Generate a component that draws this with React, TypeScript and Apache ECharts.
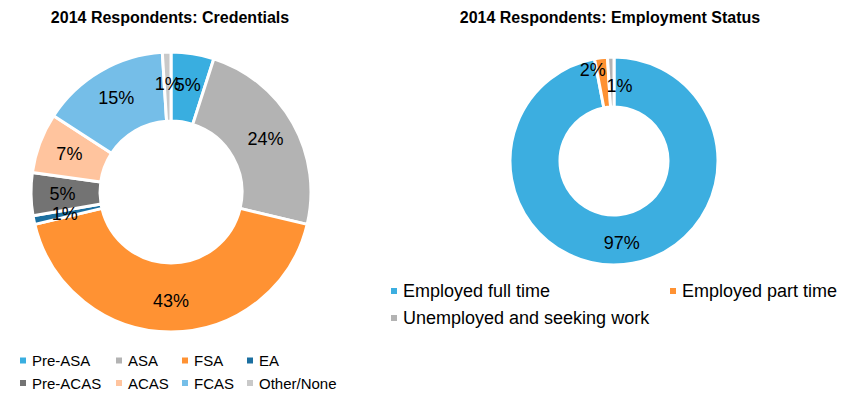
import React, { useEffect, useRef } from "react";
import * as echarts from "echarts";

const credCategories = ["Pre-ASA", "ASA", "FSA", "EA", "Pre-ACAS", "ACAS", "FCAS", "Other/None"];
const credValues = [5, 24, 43, 1, 5, 7, 15, 1];
const credColors = ["#39aee0", "#b3b3b3", "#ff9233", "#1b6fa0", "#737373", "#ffc49e", "#75bee8", "#c9c9c9"];

const empCategories = ["Employed full time", "Employed part time", "Unemployed and seeking work"];
const empValues = [97, 2, 1];
const empColors = ["#3caee0", "#ff9233", "#b3b3b3"];
const empLabelOffsets: [number, number][] = [[0, 0], [-11, -10], [8, 7]];

const titles = ["2014 Respondents: Credentials", "2014 Respondents: Employment Status"];

const FONT = '"Liberation Sans", Arial, sans-serif';

export default function App() {
  const ref = useRef<HTMLDivElement>(null);
  useEffect(() => {
    if (!ref.current) return;
    const chart = echarts.init(ref.current, undefined, { renderer: "svg" });
    const labelBase = {
      show: true,
      position: "inside",
      formatter: "{c}%",
      color: "#000",
      fontSize: 18,
      fontFamily: FONT,
      textBorderWidth: 0,
    };
    const leftLegendCols = [
      { left: 18, items: [credCategories[0], credCategories[4]] },
      { left: 114, items: [credCategories[1], credCategories[5]] },
      { left: 180, items: [credCategories[2], credCategories[6]] },
      { left: 245, items: [credCategories[3], credCategories[7]] },
    ];
    const legends: any[] = leftLegendCols.map((c) => ({
      orient: "vertical",
      left: c.left,
      top: 353,
      data: c.items,
      itemWidth: 8,
      itemHeight: 8,
      itemGap: 7.5,
      icon: "rect",
      selectedMode: false,
      padding: 0,
      textStyle: { fontSize: 15, lineHeight: 15, color: "#000", fontFamily: FONT },
    }));
    const rightLegendCols = [
      { left: 389, items: [empCategories[0], empCategories[2]] },
      { left: 668, items: [empCategories[1]] },
    ];
    rightLegendCols.forEach((c) =>
      legends.push({
        orient: "vertical",
        left: c.left,
        top: 282,
        data: c.items,
        itemWidth: 8,
        itemHeight: 8,
        itemGap: 9,
        icon: "rect",
        selectedMode: false,
        padding: 0,
        textStyle: { fontSize: 18, lineHeight: 18, color: "#000", fontFamily: FONT },
      })
    );

    const pieCommon = {
      type: "pie",
      startAngle: 90,
      clockwise: true,
      silent: true,
      avoidLabelOverlap: false,
      labelLayout: { hideOverlap: false },
      emphasis: { disabled: true },
      itemStyle: { borderColor: "#fff", borderWidth: 3 },
      label: labelBase,
      labelLine: { show: false },
    };

    chart.setOption({
      animation: false,
      graphic: [
        {
          type: "text",
          x: 170,
          y: 17,
          style: { text: titles[0], font: `bold 16px ${FONT}`, fill: "#000", align: "center", verticalAlign: "middle" },
        },
        {
          type: "text",
          x: 610,
          y: 17,
          style: { text: titles[1], font: `bold 16px ${FONT}`, fill: "#000", align: "center", verticalAlign: "middle" },
        },
      ],
      legend: legends,
      series: [
        {
          ...pieCommon,
          center: [171, 192],
          radius: [71, 140],
          data: credCategories.map((name, i) => ({
            name,
            value: credValues[i],
            itemStyle: { color: credColors[i] },
          })),
        },
        {
          ...pieCommon,
          center: [614, 161],
          radius: [54, 104],
          data: empCategories.map((name, i) => ({
            name,
            value: empValues[i],
            itemStyle: { color: empColors[i] },
            label: { offset: empLabelOffsets[i] },
          })),
        },
      ],
    });
    return () => chart.dispose();
  }, []);
  return (
    <div
      ref={ref}
      style={{ position: "fixed", left: 0, top: 0, width: 858, height: 400, background: "#fff" }}
    />
  );
}
